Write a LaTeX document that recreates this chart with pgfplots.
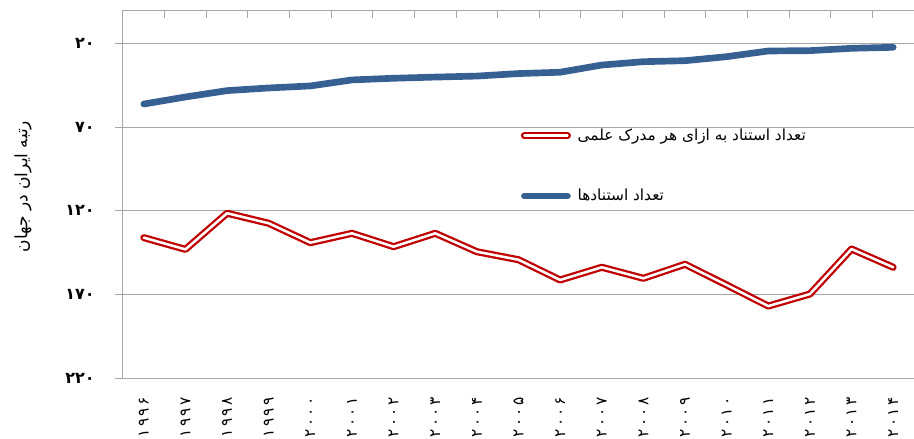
\documentclass[border=0pt]{standalone}
\usepackage{pgfplots}
\pgfplotsset{compat=1.18}
\usepackage{fontspec}
\setmainfont{DejaVu Sans}
\newfontfamily\fa[Script=Arabic]{DejaVu Sans}
\newfontfamily\fadig{DejaVu Sans}
\newfontfamily\faxdig[LetterSpace=15]{DejaVu Sans}
\TeXXeTstate=1
\definecolor{axgray}{RGB}{166,166,166}
\definecolor{serblue}{RGB}{55,96,146}
\definecolor{serred}{RGB}{192,0,0}
\begin{document}
\begin{tikzpicture}
\useasboundingbox (-92.25pt,-45.75pt) rectangle (593.25pt,283.5pt);
\begin{axis}[
  name=ax,
  scale only axis, width=593.25pt, height=276pt,
  xmin=-0.5, xmax=18.5, ymin=0, ymax=220, y dir=reverse,
  xtick={0,...,18},
  xticklabels={۱۹۹۶,۱۹۹۷,۱۹۹۸,۱۹۹۹,۲۰۰۰,۲۰۰۱,۲۰۰۲,۲۰۰۳,۲۰۰۴,۲۰۰۵,۲۰۰۶,۲۰۰۷,۲۰۰۸,۲۰۰۹,۲۰۱۰,۲۰۱۱,۲۰۱۲,۲۰۱۳,۲۰۱۴},
  ytick={20,70,120,170,220},
  yticklabels={۲۰,۷۰,۱۲۰,۱۷۰,۲۲۰},
  ymajorgrids, grid style={draw=axgray, line width=0.75pt},
  axis line style={draw=none},
  ytick pos=left, tick align=outside, major tick length=6pt,
  y tick style={draw=axgray, line width=0.75pt},
  x tick style={draw=none},
  xticklabel pos=lower,
  xticklabel style={font=\faxdig\fontsize{11.5}{11.5}\selectfont, rotate=90, anchor=east, inner sep=0pt, xshift=-8.5pt},
  yticklabel style={font=\fadig\bfseries\fontsize{12}{12}\selectfont, anchor=east, inner sep=0pt, xshift=-15pt},
  ylabel={\fa\beginR رتبه ایران در جهان\endR},
  ylabel style={font=\fa\fontsize{12.8}{12.8}\selectfont, at={(axis description cs:-0.1264,0.52)}, anchor=center, rotate=0},
  clip=false,
  legend style={draw=none, fill=none, at={(axis cs:9.05,93.2)}, anchor=west, inner sep=0pt,
    font=\fa\fontsize{11.5}{11.5}\selectfont, row sep=31pt, column sep=3pt},
  legend cell align=left,
  legend image code/.code={\draw[#1] (2.6pt,0pt) -- (34.9pt,0pt);},
]
\draw[axgray, line width=0.75pt] (axis cs:18.5,0) -- (axis cs:-0.5,0) -- (axis cs:-0.5,220);
\pgfplotsinvokeforeach{0,...,18}{\draw[axgray, line width=0.75pt] (axis cs:#1.5,0) -- ++(0pt,-6pt);}
\addplot[serred, line width=1.7pt, double=white, double distance=1.9pt, line cap=round, line join=round] coordinates {
(0,136.1) (1,143.1) (2,121.5) (3,127.5) (4,139.1) (5,133.5) (6,141.5) (7,133.5) (8,144.5) (9,149.3)
(10,161.4) (11,153.8) (12,160.4) (13,152.0) (14,164.4) (15,177.0) (16,169.8) (17,142.9) (18,153.8)};
\addlegendentry{\beginR تعداد استناد به ازای هر مدرک علمی\endR}
\addplot[serblue, line width=5pt, line cap=round, line join=round] coordinates {
(0,56.2) (1,52.0) (2,48.2) (3,46.6) (4,45.4) (5,41.8) (6,40.8) (7,40.1) (8,39.5) (9,38.0)
(10,37.2) (11,32.9) (12,30.9) (13,30.3) (14,27.9) (15,24.5) (16,24.3) (17,22.9) (18,22.3)};
\addlegendentry{\beginR تعداد استنادها\endR}
\end{axis}
\end{tikzpicture}
\end{document}
